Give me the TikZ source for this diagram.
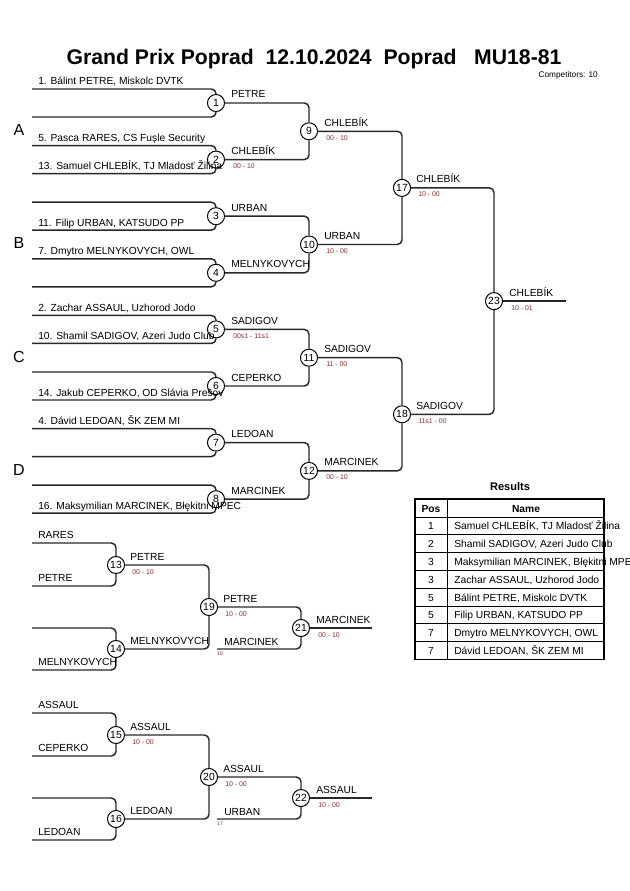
\documentclass[tikz,border=0pt]{standalone}
\usepackage{fontspec}
\setmainfont{Liberation Sans}
\definecolor{lc}{RGB}{40,40,40}
\definecolor{scc}{RGB}{140,45,45}
\begin{document}
\begin{tikzpicture}[x=0.75pt,y=-0.75pt,
 ln/.style={line width=1.1pt, draw=lc, rounded corners=3.5pt},
 mc/.style={circle, draw=black, fill=white, line width=0.75pt, minimum size=12.8pt, inner sep=0pt, font=\fontsize{7.8}{8}\selectfont},
 tx/.style={anchor=base west, inner sep=0pt, font=\fontsize{7.7}{9}\selectfont},
 sc/.style={anchor=base west, inner sep=0pt, font=\fontsize{5.2}{6}\selectfont, text=scc},
 tinyl/.style={anchor=base west, inner sep=0pt, font=\fontsize{3.8}{4}\selectfont, text=scc},
 pool/.style={inner sep=0pt, font=\fontsize{12}{14}\selectfont},
 tb/.style={inner sep=0pt, font=\fontsize{7.7}{9}\selectfont},
]
\useasboundingbox (0,0) rectangle (630,891);

% ---------- title ----------
\node[anchor=base, inner sep=0pt, font=\bfseries\fontsize{15.9}{18}\selectfont] (title) at (314,65) {Grand Prix Poprad\ \ 12.10.2024\ \ Poprad\ \ \ MU18-81};
\node[anchor=base east, inner sep=0pt, font=\fontsize{6.2}{7}\selectfont] (comp) at (598,78) {Competitors: 10};

% ---------- main bracket circles ----------
\node[mc] (m1) at (216,103) {1};
\node[mc] (m2) at (216,159.6) {2};
\node[mc] (m3) at (216,216.2) {3};
\node[mc] (m4) at (216,272.8) {4};
\node[mc] (m5) at (216,329.4) {5};
\node[mc] (m6) at (216,386) {6};
\node[mc] (m7) at (216,442.6) {7};
\node[mc] (m8) at (216,499.2) {8};
\node[mc] (m9) at (309,131.3) {9};
\node[mc] (m10) at (309,244.5) {10};
\node[mc] (m11) at (309,357.7) {11};
\node[mc] (m12) at (309,470.9) {12};
\node[mc] (m17) at (402,187.9) {17};
\node[mc] (m18) at (402,414.3) {18};
\node[mc] (m23) at (494,301.1) {23};

% entrant line ends
\foreach \k/\y in {1/103,2/159.6,3/216.2,4/272.8,5/329.4,6/386,7/442.6,8/499.2}{
  \coordinate (e\k a) at (32,\y-14);
  \coordinate (e\k b) at (32,\y+14);
  \draw[ln] (e\k a) -| (m\k);
  \draw[ln] (e\k b) -| (m\k);
}
\draw[ln] (m1) -| (m9);  \draw[ln] (m2) -| (m9);
\draw[ln] (m3) -| (m10); \draw[ln] (m4) -| (m10);
\draw[ln] (m5) -| (m11); \draw[ln] (m6) -| (m11);
\draw[ln] (m7) -| (m12); \draw[ln] (m8) -| (m12);
\draw[ln] (m9) -| (m17); \draw[ln] (m10) -| (m17);
\draw[ln] (m11) -| (m18); \draw[ln] (m12) -| (m18);
\draw[ln] (m17) -| (m23); \draw[ln] (m18) -| (m23);
\coordinate (w23) at (566,301.1);
\draw[ln] (m23) -- (w23);

% entrant labels
\node[tx] (n1) at (38,85) {1. Bálint PETRE, Miskolc DVTK};
\node[tx] (n5) at (38,141.6) {5. Pasca RARES, CS Fușle Security};
\node[tx] (n13) at (38,169.6) {13. Samuel CHLEBÍK, TJ Mladosť Žilina};
\node[tx] (n11) at (38,226.2) {11. Filip URBAN, KATSUDO PP};
\node[tx] (n7) at (38,254.8) {7. Dmytro MELNYKOVYCH, OWL};
\node[tx] (n2) at (38,311.4) {2. Zachar ASSAUL, Uzhorod Jodo};
\node[tx] (n10) at (38,339.4) {10. Shamil SADIGOV, Azeri Judo Club};
\node[tx] (n14) at (38,396) {14. Jakub CEPERKO, OD Slávia Prešov};
\node[tx] (n4) at (38,424.6) {4. Dávid LEDOAN, ŠK ZEM MI};
\node[tx] (n16) at (38,509.2) {16. Maksymilian MARCINEK, Błękitni MPEC};

% pool letters
\node[pool] (pA) at (19,130) {A};
\node[pool] (pB) at (19,243) {B};
\node[pool] (pC) at (19,357) {C};
\node[pool] (pD) at (19,470) {D};

% winner labels and scores
\node[tx] (w1) at (231,98) {PETRE};
\node[tx] (w2) at (231,154.6) {CHLEBÍK};
\node[sc] (s2) at (233,168.6) {00 - 10};
\node[tx] (w3) at (231,211.2) {URBAN};
\node[tx] (w4) at (231,267.8) {MELNYKOVYCH};
\node[tx] (w5) at (231,324.4) {SADIGOV};
\node[sc] (s5) at (233,338.4) {00s1 - 11s1};
\node[tx] (w6) at (231,381) {CEPERKO};
\node[tx] (w7) at (231,437.6) {LEDOAN};
\node[tx] (w8) at (231,494.2) {MARCINEK};
\node[tx] (w9) at (324,126.3) {CHLEBÍK};
\node[sc] (s9) at (326,140.3) {00 - 10};
\node[tx] (w10) at (324,239.5) {URBAN};
\node[sc] (s10) at (326,253.5) {10 - 00};
\node[tx] (w11) at (324,352.7) {SADIGOV};
\node[sc] (s11) at (326,366.7) {11 - 00};
\node[tx] (w12) at (324,465.9) {MARCINEK};
\node[sc] (s12) at (326,479.9) {00 - 10};
\node[tx] (w17) at (416,182.9) {CHLEBÍK};
\node[sc] (s17) at (418,196.9) {10 - 00};
\node[tx] (w18) at (416,409.3) {SADIGOV};
\node[sc] (s18) at (418,423.3) {11s1 - 00};
\node[tx] (w23l) at (509,296.1) {CHLEBÍK};
\node[sc] (s23) at (511,310.1) {10 - 01};

% ---------- repechage 1 ----------
\node[mc] (m13) at (116,565) {13};
\node[mc] (m14) at (116,649) {14};
\node[mc] (m19) at (209,607) {19};
\node[mc] (m21) at (301,628) {21};
\coordinate (r13a) at (32,543);
\coordinate (r13b) at (32,586);
\coordinate (r14a) at (32,628);
\coordinate (r14b) at (32,670);
\coordinate (r21b) at (217,649);
\coordinate (w21) at (372,628);
\draw[ln] (r13a) -| (m13); \draw[ln] (r13b) -| (m13);
\draw[ln] (r14a) -| (m14); \draw[ln] (r14b) -| (m14);
\draw[ln] (m13) -| (m19); \draw[ln] (m14) -| (m19);
\draw[ln] (m19) -| (m21); \draw[ln] (r21b) -| (m21);
\draw[ln] (m21) -- (w21);
\node[tx] (q1) at (38,538) {RARES};
\node[tx] (q2) at (38,581) {PETRE};
\node[tx] (q3) at (38,665) {MELNYKOVYCH};
\node[tx] (w13) at (130,560) {PETRE};
\node[sc] (s13) at (132,574) {00 - 10};
\node[tx] (w14) at (130,644) {MELNYKOVYCH};
\node[tx] (w19) at (223,602) {PETRE};
\node[sc] (s19) at (225,616) {10 - 00};
\node[tx] (b21) at (224,645) {MARCINEK};
\node[tinyl] (f18) at (217,655) {18};
\node[tx] (w21l) at (316,623) {MARCINEK};
\node[sc] (s21) at (318,637) {00 - 10};

% ---------- repechage 2 ----------
\node[mc] (m15) at (116,735) {15};
\node[mc] (m16) at (116,819) {16};
\node[mc] (m20) at (209,777) {20};
\node[mc] (m22) at (301,798) {22};
\coordinate (r15a) at (32,713);
\coordinate (r15b) at (32,756);
\coordinate (r16a) at (32,798);
\coordinate (r16b) at (32,840);
\coordinate (r22b) at (217,819);
\coordinate (w22) at (372,798);
\draw[ln] (r15a) -| (m15); \draw[ln] (r15b) -| (m15);
\draw[ln] (r16a) -| (m16); \draw[ln] (r16b) -| (m16);
\draw[ln] (m15) -| (m20); \draw[ln] (m16) -| (m20);
\draw[ln] (m20) -| (m22); \draw[ln] (r22b) -| (m22);
\draw[ln] (m22) -- (w22);
\node[tx] (q4) at (38,708) {ASSAUL};
\node[tx] (q5) at (38,751) {CEPERKO};
\node[tx] (q6) at (38,835) {LEDOAN};
\node[tx] (w15) at (130,730) {ASSAUL};
\node[sc] (s15) at (132,744) {10 - 00};
\node[tx] (w16) at (130,814) {LEDOAN};
\node[tx] (w20) at (223,772) {ASSAUL};
\node[sc] (s20) at (225,786) {10 - 00};
\node[tx] (b22) at (224,815) {URBAN};
\node[tinyl] (f17) at (217,825) {17};
\node[tx] (w22l) at (316,793) {ASSAUL};
\node[sc] (s22) at (318,807) {10 - 00};

% ---------- results table ----------
\node[anchor=base, inner sep=0pt, font=\bfseries\fontsize{8.3}{10}\selectfont] (res) at (510,490) {Results};
\node[anchor=base, tb, font=\bfseries\fontsize{7.7}{9}\selectfont] (hpos) at (431,512) {Pos};
\node[anchor=base, tb, font=\bfseries\fontsize{7.7}{9}\selectfont] (hname) at (526,512) {Name};
\foreach \i/\p/\n in {1/1/{Samuel CHLEBÍK, TJ Mladosť Žilina},
                      2/2/{Shamil SADIGOV, Azeri Judo Club},
                      3/3/{Maksymilian MARCINEK, Błękitni MPEC},
                      4/3/{Zachar ASSAUL, Uzhorod Jodo},
                      5/5/{Bálint PETRE, Miskolc DVTK},
                      6/5/{Filip URBAN, KATSUDO PP},
                      7/7/{Dmytro MELNYKOVYCH, OWL},
                      8/7/{Dávid LEDOAN, ŠK ZEM MI}}{
  \node[tb, anchor=base] (rp\i) at (431,{517+17.8*\i-5}) {\p};
  \node[tb, anchor=base west] (rn\i) at (454,{517+17.8*\i-5}) {\n};
}
\foreach \i in {0,...,7}{
  \draw[line width=0.6pt] (415,{517+17.8*\i}) -- (604,{517+17.8*\i});
}
\draw[line width=0.6pt] (447,499) -- (447,659.4);
\draw[line width=1.2pt] (415,499) rectangle (604,659.4);
\end{tikzpicture}
\end{document}
